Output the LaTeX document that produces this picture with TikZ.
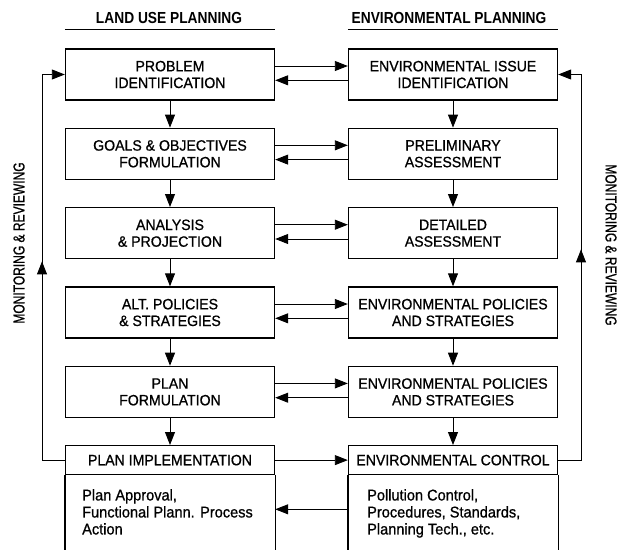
\documentclass[tikz,border=0pt]{standalone}
\usepackage{fontspec}
\setmainfont[FakeStretch=0.94,FakeBold=0.8]{Liberation Sans}
\newfontfamily\headfont[FakeStretch=0.86]{Liberation Sans}
\newfontfamily\sidefont[FakeStretch=0.76,FakeBold=0.8]{Liberation Sans}
\usetikzlibrary{arrows.meta,decorations.markings}

\begin{document}
\begin{tikzpicture}[x=1pt,y=-1pt,
  stage/.style={draw, line width=1.4pt, minimum width=209pt, minimum height=51pt,
    inner sep=0pt, align=center, font=\fontsize{15}{16.7}\selectfont},
  headbox/.style={stage, minimum height=28.8pt},
  bodytext/.style={inner sep=0pt, align=left, anchor=north west,
    font=\fontsize{15.5}{17}\selectfont},
  tipshape/.style={-{Triangle[length=13pt,width=10pt]}},
  flow/.style={line width=0.9pt, tipshape},
  loopline/.style={line width=0.9pt, tipshape},
  heading/.style={font=\headfont\bfseries\fontsize{16}{18}\selectfont, inner sep=0pt},
  rule/.style={line width=1.3pt},
  sidelabel/.style={font=\sidefont\fontsize{15.8}{17}\selectfont, inner sep=0pt},
  midtip/.style={postaction={decorate}, decoration={markings,
    mark=at position #1 with {\arrow{Triangle[length=13pt,width=10pt]}}}},
]
\useasboundingbox (0,0) rectangle (617,549);

% column headings
\node[heading] (hl) at (169,18) {LAND USE PLANNING};
\node[heading] (hr) at (449,18) {ENVIRONMENTAL PLANNING};

% land use planning column
\node[stage] (l1) at (170,74.5)  {PROBLEM\\IDENTIFICATION};
\node[stage] (l2) at (170,153.8) {GOALS \& OBJECTIVES\\FORMULATION};
\node[stage] (l3) at (170,233.2) {ANALYSIS\\\& PROJECTION};
\node[stage] (l4) at (170,312.5) {ALT. POLICIES\\\& STRATEGIES};
\node[stage] (l5) at (170,391.9) {PLAN\\FORMULATION};
\node[headbox] (lh) at (170,460.1) {PLAN IMPLEMENTATION};

% environmental planning column
\node[stage] (r1) at (453,74.5)  {ENVIRONMENTAL ISSUE\\IDENTIFICATION};
\node[stage] (r2) at (453,153.8) {PRELIMINARY\\ASSESSMENT};
\node[stage] (r3) at (453,233.2) {DETAILED\\ASSESSMENT};
\node[stage] (r4) at (453,312.5) {ENVIRONMENTAL POLICIES\\AND STRATEGIES};
\node[stage] (r5) at (453,391.9) {ENVIRONMENTAL POLICIES\\AND STRATEGIES};
\node[headbox] (rh) at (453,460.1) {ENVIRONMENTAL CONTROL};

% underlines below the headings
\draw[rule] (l1.west |- 0,29.3) -- (l1.east |- 0,29.3);
\draw[rule] (r1.west |- 0,29.3) -- (r1.east |- 0,29.3);

% open-ended bodies of the last boxes
\coordinate (pagebottom) at (0,560);
\node[bodytext] (lb) at (82,489) {Plan Approval,\\Functional Plann. Process\\Action};
\node[bodytext] (rb) at (367,489) {Pollution Control,\\Procedures, Standards,\\Planning Tech., etc.};
\draw[line width=1.4pt] (lh.south west) -- (lh.south west |- pagebottom);
\draw[line width=1.4pt] (lh.south east) -- (lh.south east |- pagebottom);
\draw[line width=1.4pt] (rh.south west) -- (rh.south west |- pagebottom);
\draw[line width=1.4pt] (rh.south east) -- (rh.south east |- pagebottom);

% downward flow in each column
\foreach \a/\b in {1/2,2/3,3/4,4/5} {
  \draw[flow] (l\a.south) -- (l\b.north);
  \draw[flow] (r\a.south) -- (r\b.north);
}
\draw[flow] (l5.south) -- (lh.north);
\draw[flow] (r5.south) -- (rh.north);

% exchanges between the columns
\foreach \i in {1,...,5} {
  \draw[flow] ([yshift=8.5pt]l\i.east) -- ([yshift=8.5pt]r\i.west);
  \draw[flow] ([yshift=-5.8pt]r\i.west) -- ([yshift=-5.8pt]l\i.east);
}
\draw[flow] (lh.east) -- (rh.west);
\coordinate (backrow) at (0,509.3);
\draw[flow] (rh.west |- backrow) -- (lh.east |- backrow);

% monitoring and reviewing loops
\coordinate (lx) at (42,0);
\coordinate (rx) at (581,0);
\draw[loopline, midtip=221.5pt] (lh.west) -- (lh.west -| lx) -- (l1.west -| lx) -- (l1.west);
\draw[loopline, midtip=233.5pt] (rh.east) -- (rh.east -| rx) -- (r1.east -| rx) -- (r1.east);

\node[sidelabel, rotate=90]  (ml) at (19,243)  {MONITORING \& REVIEWING};
\node[sidelabel, rotate=-90] (mr) at (611,245) {MONITORING \& REVIEWING};
\end{tikzpicture}
\end{document}
